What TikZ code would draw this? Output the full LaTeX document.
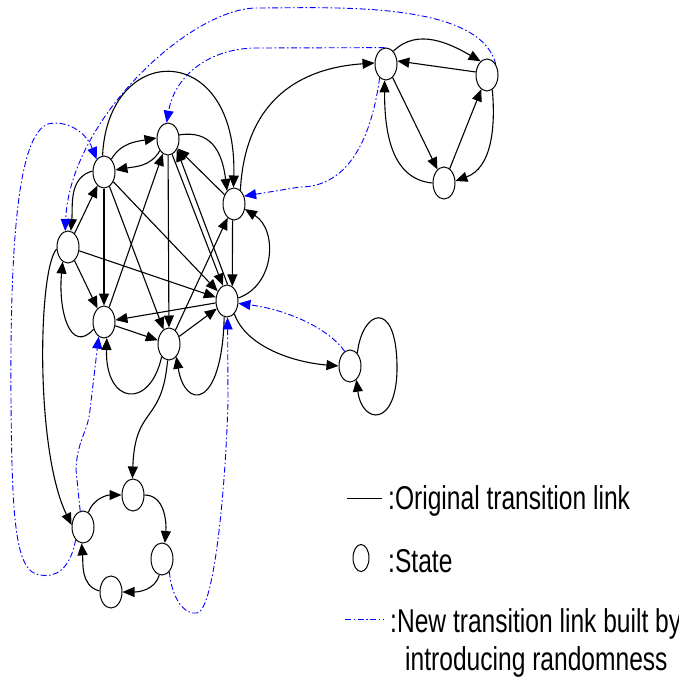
\documentclass[tikz,border=0pt]{standalone}
\usepackage{fontspec}
\usetikzlibrary{arrows.meta,shapes.geometric}
\newfontfamily\legfont{Liberation Sans}
\begin{document}
\begin{tikzpicture}[x=1pt,y=1pt,
  st/.style={draw, ellipse, minimum width=22pt, minimum height=32pt, inner sep=0pt, line width=1pt, fill=white},
  blk/.style={line width=1.1pt, -{Triangle[length=12pt,width=10pt]}},
  bluedash/.style={blue, line width=0.9pt, dash pattern=on 6pt off 2.5pt on 1.5pt off 2.5pt},
  blu/.style={bluedash, -{Triangle[length=12pt,width=10pt]}},
  legtxt/.style={anchor=base west, inner sep=0pt, font=\legfont\fontsize{33pt}{36pt}\selectfont}
]
\useasboundingbox (0,0) rectangle (678,-679);
% states
\node[st] (A) at (168,-139) {};
\node[st] (B) at (104,-172) {};
\node[st] (C) at (68,-247) {};
\node[st] (D) at (104,-322) {};
\node[st] (E) at (169,-344) {};
\node[st] (F) at (227,-301) {};
\node[st] (G) at (234,-204) {};
\node[st] (H) at (386,-64) {};
\node[st] (I) at (487,-75) {};
\node[st] (J) at (444,-183) {};
\node[st] (K) at (350,-366) {};
\node[st] (L) at (83,-527) {};
\node[st] (M) at (133,-495) {};
\node[st] (N) at (162,-559) {};
\node[st] (O) at (111,-592) {};
% black links, main cluster
\draw[blk] (B.60) to[out=60,in=190] (A.175);
\draw[blk] (A.235) to[out=240,in=10] (B.10);
\draw[blk] (B.175) to[out=195,in=85] (C.80);
\draw[blk] (C) -- (B);
\draw[blk] (C) -- (D);
\draw[blk] (D.215) .. controls (70,-355) and (58,-310) .. (C.250);
\draw[blk] (B) -- (D);
\draw[blk] (B) -- (E);
\draw[blk] (B) -- (F);
\draw[blk] (C) -- (F);
\draw[blk] (A) -- (E);
\draw[blk] (D) -- (A);
\draw[blk] (A.-75) -- (F.105);
\draw[blk] (F.88) -- (A.-50);
\draw[blk] (G) -- (A);
\draw[blk] (G.-95) -- (F.70);
\draw[blk] (F.15) .. controls (275,-285) and (278,-230) .. (G.-25);
\draw[blk] (E) -- (G);
\draw[blk] (D) -- (E);
\draw[blk] (E) -- (F);
\draw[blk] (F) -- (D);
\draw[blk] (E.240) .. controls (150,-410) and (105,-405) .. (D.-80);
\draw[blk] (F.-100) .. controls (222,-410) and (185,-410) .. (E.-60);
\draw[blk] (B.95) .. controls (108,-40) and (238,-40) .. (G.92);
\draw[blk] (A.20) .. controls (210,-130) and (222,-150) .. (G.118);
\draw[blk] (G.65) .. controls (245,-100) and (300,-68) .. (H.175);
\draw[blk] (F.-60) .. controls (245,-345) and (290,-362) .. (K.180);
\draw[blk] (K.60) .. controls (362,-310) and (396,-298) .. (397,-365) .. controls (398,-428) and (362,-425) .. (K.-65);
\draw[blk] (E.-95) .. controls (162,-425) and (135,-405) .. (M.92);
\draw[blk] (C.190) .. controls (38,-270) and (35,-450) .. (L.170);
% bottom ring
\draw[blk] (L.70) to[out=70,in=180] (M.180);
\draw[blk] (M.0) to[out=0,in=85] (N.80);
\draw[blk] (N.-100) to[out=-105,in=0] (O.0);
\draw[blk] (O.175) to[out=165,in=-85] (L.-95);
% top-right triangle
\draw[blk] (H.60) to[out=45,in=150] (I.115);
\draw[blk] (I.165) -- (H.15);
\draw[blk] (H) -- (J);
\draw[blk] (J) -- (I);
\draw[blk] (I.-70) to[out=-85,in=20] (J.10);
\draw[blk] (J.180) to[out=175,in=-90] (H.-95);
% blue random links
\draw[blu] (I.50) .. controls (480,0) and (330,-8) .. (257,-8) .. controls (190,-8) and (70,-120) .. (C.100);
\draw[blu] (H.95) -- (257,-48) .. controls (210,-48) and (175,-75) .. (A.95);
\draw[blu] (H.-115) .. controls (372,-135) and (350,-187) .. (300,-187) -- (G.38);
\draw[blu] (L.-120) .. controls (70,-570) and (55,-578) .. (40,-575) .. controls (15,-572) and (12,-520) .. (11,-400) .. controls (10,-250) and (17,-135) .. (48,-124) .. controls (65,-120) and (85,-130) .. (B.120);
\draw[blu] (L.100) -- (76,-470) .. controls (77,-440) and (88,-432) .. (90,-410) -- (D.-110);
\draw[blu] (N.-60) .. controls (172,-600) and (185,-615) .. (197,-613) .. controls (215,-610) and (226,-480) .. (228,-400) -- (F.-88);
\draw[blu] (K.110) .. controls (330,-330) and (290,-310) .. (F.-12);
% legend
\coordinate (l1a) at (347,-498);
\coordinate (l1b) at (382,-498);
\draw[line width=1pt] (l1a) -- (l1b);
\node[draw, ellipse, minimum width=16pt, minimum height=27pt, inner sep=0pt, line width=1pt] (legstate) at (361,-558) {};
\coordinate (l3a) at (345,-619);
\coordinate (l3b) at (383,-619);
\draw[bluedash] (l3a) -- (l3b);
\node[legtxt] (t1) at (388,-509) {\scalebox{0.745}[1]{:Original transition link}};
\node[legtxt] (t2) at (388,-572) {\scalebox{0.745}[1]{:State}};
\node[legtxt] (t3) at (390,-632) {\scalebox{0.745}[1]{:New transition link built by}};
\node[legtxt] (t4) at (405,-670) {\scalebox{0.745}[1]{introducing randomness}};
\end{tikzpicture}
\end{document}
